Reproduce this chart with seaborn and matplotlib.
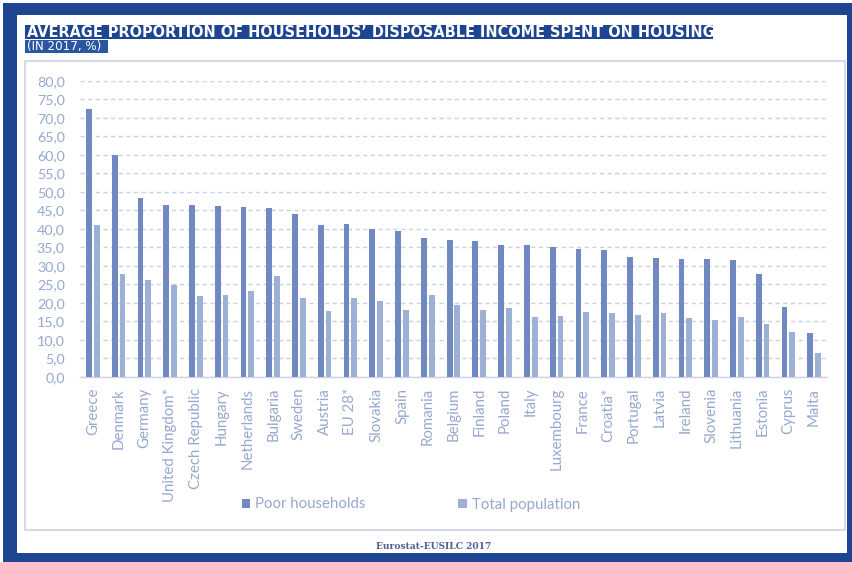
import numpy as np
import pandas as pd
import matplotlib
matplotlib.use("Agg")
import matplotlib.pyplot as plt
from matplotlib.patches import Rectangle
import seaborn as sns

countries = ["Greece", "Denmark", "Germany", "United Kingdom*", "Czech Republic",
             "Hungary", "Netherlands", "Bulgaria", "Sweden", "Austria", "EU 28*",
             "Slovakia", "Spain", "Romania", "Belgium", "Finland", "Poland", "Italy",
             "Luxembourg", "France", "Croatia*", "Portugal", "Latvia", "Ireland",
             "Slovenia", "Lithuania", "Estonia", "Cyprus", "Malta"]
poor_households = [72.3, 59.9, 48.3, 46.5, 46.4, 46.1, 45.9, 45.6, 43.9, 40.9, 41.4,
                   39.9, 39.5, 37.4, 36.9, 36.7, 35.6, 35.6, 35.0, 34.5, 34.3, 32.4,
                   32.2, 31.9, 31.7, 31.5, 27.7, 18.9, 11.7]
total_population = [40.9, 27.7, 26.1, 24.7, 21.8, 22.0, 23.2, 27.1, 21.4, 17.7, 21.3,
                    20.5, 17.9, 22.0, 19.3, 17.9, 18.7, 16.0, 16.3, 17.4, 17.3, 16.8,
                    17.1, 15.9, 15.4, 16.1, 14.3, 12.0, 6.5]
series_names = ["Poor households", "Total population"]
y_ticks = [0, 5, 10, 15, 20, 25, 30, 35, 40, 45, 50, 55, 60, 65, 70, 75, 80]

title_text = "AVERAGE PROPORTION OF HOUSEHOLDS\u2019 DISPOSABLE INCOME SPENT ON HOUSING"
subtitle_text = "(IN 2017, %)"
source_text = "Eurostat-EUSILC 2017"

NAVY = "#1e4591"
POOR = "#7089c0"
TOTAL = "#9db1d7"
LABEL = "#97a8cf"
GRID = "#c9d1e3"

df = pd.DataFrame({
    "country": countries * 2,
    "value": poor_households + total_population,
    "series": [series_names[0]] * len(countries) + [series_names[1]] * len(countries),
})

sns.set_theme(style="white")
plt.rcParams["font.family"] = ["Lato", "DejaVu Sans"]

W, H = 853, 562
fig = plt.figure(figsize=(W / 100, H / 100), dpi=100)
fig.patch.set_facecolor("white")


def px_rect(x0, y0, x1, y1, **kw):
    """Rectangle given in pixel coordinates (origin top-left)."""
    r = Rectangle((x0 / W, 1 - y1 / H), (x1 - x0) / W, (y1 - y0) / H,
                  transform=fig.transFigure, **kw)
    fig.add_artist(r)
    return r


# outer navy frame and white card
px_rect(3, 3, 853, 562, facecolor=NAVY, edgecolor="none", zorder=0)
px_rect(17, 15, 847, 553, facecolor="white", edgecolor="none", zorder=0)
# inner chart panel
px_rect(25, 61, 845, 530, facecolor="none", edgecolor="#ccd3e3", linewidth=1.2, zorder=1)

# title and subtitle banners
px_rect(25, 25, 713, 39, facecolor=NAVY, edgecolor="none", zorder=1)
fig.text(27 / W, 1 - 32.5 / H, title_text, color="white", fontsize=10.45,
         fontweight="bold", family=["DejaVu Sans"], va="center", ha="left", zorder=2)
px_rect(25, 39.5, 108, 53, facecolor="#2b56a2", edgecolor="none", zorder=1)
fig.text(27 / W, 1 - 46.5 / H, subtitle_text, color="white", fontsize=8.6,
         family=["DejaVu Sans"], va="center", ha="left", zorder=2)

# source
fig.text(434 / W, 1 - 546.5 / H, source_text, color="#4d6194", fontsize=6.6,
         fontweight="bold", family=["DejaVu Serif"], va="center", ha="center")

ax = fig.add_axes([80 / W, 1 - 376.7 / H, (827 - 80) / W, (376.7 - 80.7) / H])
ax.set_facecolor("none")

sns.barplot(data=df, x="country", y="value", hue="series",
            palette=[POOR, TOTAL], width=0.6, gap=0.25, saturation=1,
            edgecolor="none", linewidth=0, ax=ax, legend=True, zorder=3)

ax.set_ylim(0, 80)
ax.set_xlim(-0.5, len(countries) - 0.5)
ax.set_yticks(y_ticks)
ax.set_yticklabels([f"{v:.1f}".replace(".", ",") for v in y_ticks])
ax.yaxis.grid(True, linestyle=(0, (3, 2.5)), color=GRID, linewidth=1.0, zorder=0)
ax.set_axisbelow(True)
for s in ["top", "right", "left"]:
    ax.spines[s].set_visible(False)
ax.spines["bottom"].set_color("#cdd4e4")
ax.spines["bottom"].set_linewidth(1.0)
ax.tick_params(axis="y", length=0, colors=LABEL, labelsize=10.3, pad=11)
ax.tick_params(axis="x", length=0, colors=LABEL, labelsize=10.8, pad=8)
plt.setp(ax.get_xticklabels(), rotation=90, ha="center", va="top")
ax.set_xlabel("")
ax.set_ylabel("")

handles, labels = ax.get_legend_handles_labels()
ax.get_legend().remove()
fig.legend(handles, labels, loc="center", bbox_to_anchor=(411 / W, 1 - 504.5 / H),
           ncol=2, frameon=False, fontsize=10.8, labelcolor=LABEL,
           handlelength=0.55, handleheight=0.55, handletextpad=0.35,
           columnspacing=6.2)

fig.savefig("out.png", dpi=100)
